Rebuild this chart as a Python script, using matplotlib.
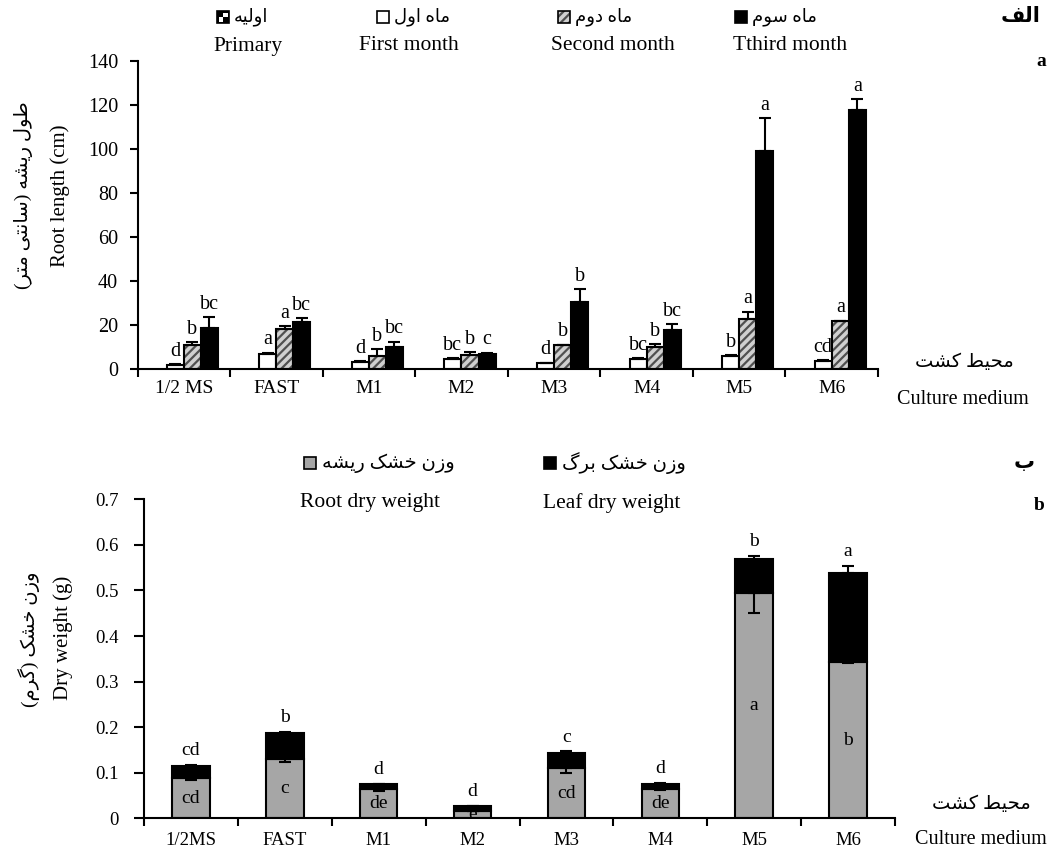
import matplotlib
matplotlib.use('Agg')
import matplotlib.pyplot as plt
from matplotlib.patches import Rectangle
from matplotlib.ticker import FuncFormatter
import numpy as np

plt.rcParams['font.family'] = ['Liberation Serif', 'DejaVu Sans']
plt.rcParams['hatch.linewidth'] = 1.6

# ---------------- data ----------------
media_top = ['1/2 MS', 'FAST', 'M1', 'M2', 'M3', 'M4', 'M5', 'M6']
media_bot = ['1/2MS', 'FAST', 'M1', 'M2', 'M3', 'M4', 'M5', 'M6']

primary = [0, 0, 0, 0, 0, 0, 0, 0]
first_month = [2.1, 7.1, 3.3, 4.8, 2.7, 4.8, 6.1, 3.8]
second_month = [10.9, 18.2, 6.1, 6.5, 10.9, 10.2, 22.7, 21.7]
third_month = [18.6, 21.5, 9.9, 7.1, 30.6, 17.9, 98.9, 117.7]
first_err = [0.3, 0.4, 0.5, 0.4, 0.3, 0.3, 0.4, 0.3]
second_err = [1.3, 1.5, 2.9, 1.4, 0.3, 1.2, 3.5, 0.3]
third_err = [5.0, 1.7, 2.7, 0.5, 5.8, 2.6, 15.0, 5.0]
first_letters = ['d', 'a', 'd', 'bc', 'd', 'bc', 'b', 'cd']
second_letters = ['b', 'a', 'b', 'b', 'b', 'b', 'a', 'a']
third_letters = ['bc', 'bc', 'bc', 'c', 'b', 'bc', 'a', 'a']

root_dw = [0.088, 0.130, 0.064, 0.017, 0.110, 0.064, 0.494, 0.342]
leaf_dw = [0.027, 0.058, 0.011, 0.009, 0.033, 0.012, 0.075, 0.197]
root_err = [0.005, 0.007, 0.004, 0.002, 0.010, 0.002, 0.044, 0.002]
leaf_err = [0.002, 0.002, 0.001, 0.001, 0.004, 0.001, 0.007, 0.015]
root_letters = ['cd', 'c', 'de', 'e', 'cd', 'de', 'a', 'b']
total_letters = ['cd', 'b', 'd', 'd', 'c', 'd', 'b', 'a']

# ---------------- minimal Persian shaping ----------------
_FORMS = {
    '\u0627': ('\uFE8D', '\uFE8E', None, None),
    '\u0628': ('\uFE8F', '\uFE90', '\uFE91', '\uFE92'),
    '\u062A': ('\uFE95', '\uFE96', '\uFE97', '\uFE98'),
    '\u062D': ('\uFEA1', '\uFEA2', '\uFEA3', '\uFEA4'),
    '\u062E': ('\uFEA5', '\uFEA6', '\uFEA7', '\uFEA8'),
    '\u062F': ('\uFEA9', '\uFEAA', None, None),
    '\u0631': ('\uFEAD', '\uFEAE', None, None),
    '\u0632': ('\uFEAF', '\uFEB0', None, None),
    '\u0633': ('\uFEB1', '\uFEB2', '\uFEB3', '\uFEB4'),
    '\u0634': ('\uFEB5', '\uFEB6', '\uFEB7', '\uFEB8'),
    '\u0637': ('\uFEC1', '\uFEC2', '\uFEC3', '\uFEC4'),
    '\u0641': ('\uFED1', '\uFED2', '\uFED3', '\uFED4'),
    '\u0644': ('\uFEDD', '\uFEDE', '\uFEDF', '\uFEE0'),
    '\u0645': ('\uFEE1', '\uFEE2', '\uFEE3', '\uFEE4'),
    '\u0646': ('\uFEE5', '\uFEE6', '\uFEE7', '\uFEE8'),
    '\u0647': ('\uFEE9', '\uFEEA', '\uFEEB', '\uFEEC'),
    '\u0648': ('\uFEED', '\uFEEE', None, None),
    '\u06CC': ('\uFBFC', '\uFBFD', '\uFBFE', '\uFBFF'),
    '\u064A': ('\uFBFC', '\uFBFD', '\uFBFE', '\uFBFF'),
    '\u06A9': ('\uFB8E', '\uFB8F', '\uFB90', '\uFB91'),
    '\u0643': ('\uFB8E', '\uFB8F', '\uFB90', '\uFB91'),
    '\u06AF': ('\uFB92', '\uFB93', '\uFB94', '\uFB95'),
}
_MIRROR = {'(': ')', ')': '('}


def fa(s):
    out = []
    n = len(s)
    for i, c in enumerate(s):
        if c not in _FORMS:
            out.append(_MIRROR.get(c, c))
            continue
        f = _FORMS[c]
        prev = s[i - 1] if i > 0 else None
        nxt = s[i + 1] if i < n - 1 else None
        jp = prev in _FORMS and _FORMS[prev][2] is not None
        jn = f[2] is not None and nxt in _FORMS
        if jp and jn:
            out.append(f[3])
        elif jp:
            out.append(f[1])
        elif jn:
            out.append(f[2])
        else:
            out.append(f[0])
    return ''.join(reversed(out))


# ---------------- figure ----------------
W, H = 1052, 852
fig = plt.figure(figsize=(W / 100, H / 100), dpi=100)


def px_axes(l, t, r, b):
    return fig.add_axes([l / W, 1 - b / H, (r - l) / W, (b - t) / H])


LW = 1.5
ekw = dict(ecolor='black', elinewidth=LW, capthick=LW, capsize=4.5)

# ---------- top panel ----------
ax1 = px_axes(137.5, 60.7, 878, 369.3)
x = np.arange(len(media_top))
w = 0.184
zeros = np.zeros(len(x))

ax1.bar(x - 1.5 * w, primary, w, color='white', edgecolor='black', lw=1.0)
ax1.bar(x - 0.5 * w, first_month, w, color='white', edgecolor='black', lw=LW,
        yerr=[zeros, first_err], error_kw=ekw)
ax1.bar(x + 0.5 * w, second_month, w, color='#d0d0d0', edgecolor='#505050',
        hatch='////', lw=0)
ax1.bar(x + 0.5 * w, second_month, w, fill=False, edgecolor='black', lw=LW,
        yerr=[zeros, second_err], error_kw=ekw)
ax1.bar(x + 1.5 * w, third_month, w, color='black', edgecolor='black', lw=LW,
        yerr=[zeros, third_err], error_kw=ekw)

for off, vals, errs, labs in [(-0.5, first_month, first_err, first_letters),
                              (0.5, second_month, second_err, second_letters),
                              (1.5, third_month, third_err, third_letters)]:
    for xi, v, e, lab in zip(x, vals, errs, labs):
        ax1.annotate(lab, (xi + off * w, v + e), xytext=(0, 6),
                     textcoords='offset points', ha='center', va='baseline',
                     fontsize=14.5)

ax1.set_xlim(-0.5, 7.5)
ax1.set_ylim(0, 140)
ax1.set_yticks(np.arange(0, 141, 20))
ax1.set_xticks(np.arange(-0.5, 8, 1))
ax1.set_xticklabels([])
ax1.set_xticks(x, minor=True)
ax1.set_xticklabels(media_top, minor=True)
ax1.tick_params(axis='x', which='major', direction='out', length=6, width=LW)
ax1.tick_params(axis='x', which='minor', length=0, pad=8, labelsize=14)
ax1.tick_params(axis='y', direction='out', length=6, width=LW, pad=8, labelsize=14.5)
for sp in ['top', 'right']:
    ax1.spines[sp].set_visible(False)
for sp in ['left', 'bottom']:
    ax1.spines[sp].set_linewidth(LW)

# ---------- bottom panel ----------
ax2 = px_axes(144, 499.3, 895, 818.3)
bw = 0.4
total = np.array(root_dw) + np.array(leaf_dw)
ax2.bar(x, root_dw, bw, color='#a6a6a6', edgecolor='black', lw=LW, zorder=2)
ax2.bar(x, leaf_dw, bw, bottom=root_dw, color='black', edgecolor='black', lw=LW, zorder=2)
ax2.errorbar(x, root_dw, yerr=[root_err, zeros], fmt='none', zorder=3, **ekw)
ax2.errorbar(x, total, yerr=[zeros, leaf_err], fmt='none', zorder=3, **ekw)

for xi, r, lab in zip(x, root_dw, root_letters):
    ax2.text(xi, r / 2, lab, ha='center', va='center', fontsize=14, zorder=4)
for xi, t, e, lab in zip(x, total, leaf_err, total_letters):
    ax2.annotate(lab, (xi, t + e), xytext=(0, 7), textcoords='offset points',
                 ha='center', va='baseline', fontsize=14)

ax2.set_xlim(-0.5, 7.5)
ax2.set_ylim(0, 0.7)
ax2.set_yticks(np.arange(0, 0.71, 0.1))
ax2.yaxis.set_major_formatter(FuncFormatter(lambda v, _: '0' if abs(v) < 1e-9 else f'{v:.1f}'))
ax2.set_xticks(np.arange(-0.5, 8, 1))
ax2.set_xticklabels([])
ax2.set_xticks(x, minor=True)
ax2.set_xticklabels(media_bot, minor=True)
ax2.tick_params(axis='x', which='major', direction='out', length=6, width=LW)
ax2.tick_params(axis='x', which='minor', length=0, pad=10, labelsize=13.5)
ax2.tick_params(axis='y', direction='out', length=7, width=LW, pad=11, labelsize=13.5)
for sp in ['top', 'right']:
    ax2.spines[sp].set_visible(False)
for sp in ['left', 'bottom']:
    ax2.spines[sp].set_linewidth(LW)

# ---------- overlay for legends / labels (pixel coords) ----------
ov = fig.add_axes([0, 0, 1, 1], zorder=10)
ov.set_xlim(0, W)
ov.set_ylim(H, 0)
ov.axis('off')

S = 12  # icon size


def icon(xl, yc, kind):
    if kind == 'primary':
        ov.add_patch(Rectangle((xl, yc - S / 2), S, S, facecolor='black', edgecolor='black', lw=1.2))
        ov.add_patch(Rectangle((xl + S / 2, yc - S / 2 + 1.5), S / 2 - 1.5, S / 2 - 1.5, facecolor='white', lw=0))
        ov.add_patch(Rectangle((xl + 1.5, yc), S / 2 - 1.5, S / 2 - 1.5, facecolor='white', lw=0))
    elif kind == 'white':
        ov.add_patch(Rectangle((xl, yc - S / 2), S, S, facecolor='white', edgecolor='black', lw=1.2))
    elif kind == 'hatch':
        ov.add_patch(Rectangle((xl, yc - S / 2), S, S, facecolor='#d0d0d0', edgecolor='#505050', hatch='////', lw=0))
        ov.add_patch(Rectangle((xl, yc - S / 2), S, S, fill=False, edgecolor='black', lw=1.2))
    elif kind == 'black':
        ov.add_patch(Rectangle((xl, yc - S / 2), S, S, facecolor='black', edgecolor='black', lw=1.2))
    elif kind == 'gray':
        ov.add_patch(Rectangle((xl, yc - S / 2), S, S, facecolor='#a6a6a6', edgecolor='black', lw=1.2))


top_leg = [('primary', 'اولیه', 'Primary', 217, 248),
           ('white', 'ماه اول', 'First month', 377, 409),
           ('hatch', 'ماه دوم', 'Second month', 558, 613),
           ('black', 'ماه سوم', 'Tthird month', 735, 790)]
for kind, fa_txt, en_txt, xi, xe in top_leg:
    icon(xi, 17, kind)
    ov.text(xi + S + 5, 17, fa(fa_txt), ha='left', va='center', fontsize=13)
    ov.text(xe, 46, en_txt, ha='center', va='center', fontsize=15.5)

bot_leg = [('gray', 'وزن خشک ریشه', 'Root dry weight', 304, 370),
           ('black', 'وزن خشک برگ', 'Leaf dry weight', 544, 612)]
for kind, fa_txt, en_txt, xi, xe in bot_leg:
    icon(xi, 463, kind)
    ov.text(xi + S + 6, 463, fa(fa_txt), ha='left', va='center', fontsize=14)
    ov.text(xe, 503, en_txt, ha='center', va='center', fontsize=15.5)

# panel labels
ov.text(1021, 17, fa('الف'), ha='center', va='center', fontsize=15, fontweight='bold')
ov.text(1041, 62, 'a', ha='center', va='center', fontsize=14, fontweight='bold')
ov.text(1024, 463, fa('ب'), ha='center', va='center', fontsize=15, fontweight='bold')
ov.text(1039, 506, 'b', ha='center', va='center', fontsize=14, fontweight='bold')

# culture medium labels
ov.text(964, 362, fa('محیط کشت'), ha='center', va='center', fontsize=14)
ov.text(963, 400, 'Culture medium', ha='center', va='center', fontsize=14.5)
ov.text(981, 804, fa('محیط کشت'), ha='center', va='center', fontsize=14)
ov.text(981, 840, 'Culture medium', ha='center', va='center', fontsize=14.5)

# y labels
ov.text(24, 195, fa('طول ریشه (سانتی متر)'), rotation=90, ha='center', va='center', fontsize=14)
ov.text(60, 196, 'Root length (cm)', rotation=90, ha='center', va='center', fontsize=15)
ov.text(29, 639, fa('وزن خشک (گرم)'), rotation=90, ha='center', va='center', fontsize=14)
ov.text(63, 638, 'Dry weight (g)', rotation=90, ha='center', va='center', fontsize=15)

fig.savefig('out.png', dpi=100)
